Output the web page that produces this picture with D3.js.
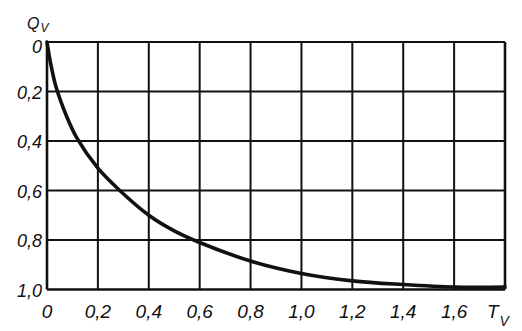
<!DOCTYPE html>
<html>
<head>
<meta charset="utf-8">
<script src="https://cdn.jsdelivr.net/npm/d3@7"></script>
<style>
  body { margin: 0; background: #fff; }
  svg text { font-family: "Liberation Sans Narrow", "Liberation Sans", "DejaVu Sans", sans-serif; font-style: italic; fill: #111; }
</style>
</head>
<body>
<div id="chart"></div>
<script>
// curve values
const tValues = [0, 0.014, 0.035, 0.077, 0.116, 0.2, 0.286, 0.4, 0.5, 0.6, 0.8, 1.0, 1.2, 1.4, 1.6, 1.8];
const qValues = [0, 0.085, 0.18, 0.30, 0.385, 0.51, 0.60, 0.70, 0.763, 0.81, 0.885, 0.935, 0.965, 0.98, 0.99, 0.99];

// grid / tick values
const xTicks = [0, 0.2, 0.4, 0.6, 0.8, 1.0, 1.2, 1.4, 1.6, 1.8];
const xTickLabels = ["0", "0,2", "0,4", "0,6", "0,8", "1,0", "1,2", "1,4", "1,6"];
const yTicks = [0, 0.2, 0.4, 0.6, 0.8, 1.0];
const yTickLabels = ["0", "0,2", "0,4", "0,6", "0,8", "1,0"];

const width = 522;
const height = 331;
const margin = { top: 42, right: 17, bottom: 41.5, left: 47 };

const svg = d3.select("#chart")
    .append("svg")
    .attr("width", width)
    .attr("height", height);

const x = d3.scaleLinear().domain([0, 1.8]).range([margin.left, width - margin.right]);
const y = d3.scaleLinear().domain([0, 1.0]).range([margin.top, height - margin.bottom]);

// grid
const grid = svg.append("g").attr("id", "grid");
grid.selectAll(".vline")
    .data(xTicks).enter()
    .append("line")
    .attr("x1", d => x(d)).attr("x2", d => x(d))
    .attr("y1", y(0)).attr("y2", y(1))
    .style("stroke", "#111")
    .style("stroke-width", (d, i) => (i === 0 || i === xTicks.length - 1) ? 2.6 : 2);
grid.selectAll(".hline")
    .data(yTicks).enter()
    .append("line")
    .attr("x1", x(0)).attr("x2", x(1.8))
    .attr("y1", d => y(d)).attr("y2", d => y(d))
    .style("stroke", "#111")
    .style("stroke-width", (d, i) => (i === yTicks.length - 1) ? 2.6 : 2);

// curve
const line = d3.line()
    .x((d, i) => x(tValues[i]))
    .y(d => y(d))
    .curve(d3.curveCatmullRom.alpha(0.5));
svg.append("path")
    .attr("d", line(qValues))
    .attr("fill", "none")
    .attr("stroke", "#111")
    .attr("stroke-width", 3.6)
    .attr("stroke-linecap", "round");

// y labels
svg.selectAll(".ylab")
    .data(yTicks).enter()
    .append("text")
    .attr("text-anchor", "end")
    .attr("x", margin.left - 5)
    .attr("y", (d, i) => y(d) + (i === 0 ? 11 : 7))
    .attr("font-size", "18px")
    .text((d, i) => yTickLabels[i]);

// x labels
svg.selectAll(".xlab")
    .data(xTickLabels).enter()
    .append("text")
    .attr("text-anchor", "middle")
    .attr("x", (d, i) => x(xTicks[i]))
    .attr("y", y(1) + 28)
    .attr("font-size", "19px")
    .text(d => d);

// axis names
const qName = svg.append("text").attr("x", 27).attr("y", 29).attr("font-size", "16px");
qName.append("tspan").text("Q");
qName.append("tspan").attr("font-size", "12px").attr("dx", 1).attr("dy", 3).text("V");

const tName = svg.append("text").attr("x", 487).attr("y", 318).attr("font-size", "19px");
tName.append("tspan").text("T");
tName.append("tspan").attr("font-size", "14px").attr("dx", 1).attr("dy", 8).text("V");
</script>
</body>
</html>
